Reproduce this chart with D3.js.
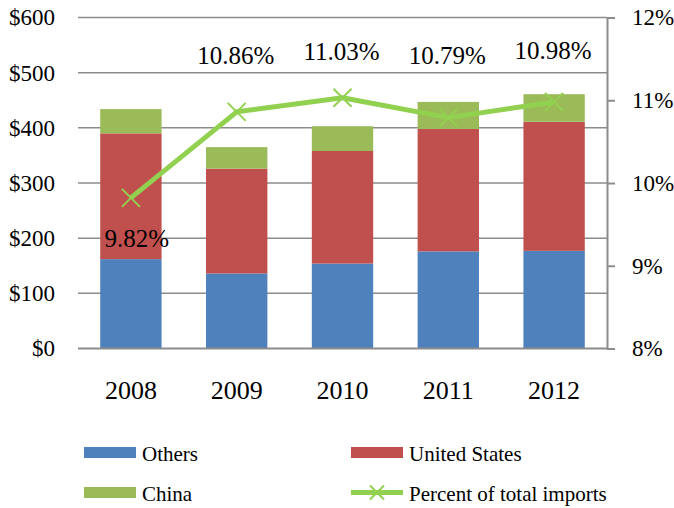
<!DOCTYPE html>
<html>
<head>
<meta charset="utf-8">
<script src="https://cdn.jsdelivr.net/npm/d3@7"></script>
<style>
  body { margin: 0; background: #fff; }
  svg text { font-family: 'Liberation Serif', 'Times New Roman', Tinos, serif !important; fill: #000; }
</style>
</head>
<body>
<div id="chart"></div>
<script>
// chart data
const years = ["2008", "2009", "2010", "2011", "2012"];
const others = [162, 136, 154, 176, 177];
const unitedStates = [228, 190, 204, 222, 234];
const china = [44, 39, 45, 49, 50];
const percentImports = [9.82, 10.86, 11.03, 10.79, 10.98];
const leftTicks = [0, 100, 200, 300, 400, 500, 600];
const rightTicks = [8, 9, 10, 11, 12];

const series_names = ["Others", "United States", "China"];
const colors = { "Others": "#4f81bd", "United States": "#c0504d", "China": "#9bbb59" };
const lineColor = "#92d050";
const serif = "'Liberation Serif', 'Times New Roman', serif";

// label nudges (px, baseline relative to point), set by hand like in the original
const labelShift = [49, -48, -38, -54, -43];

const width = 674, height = 508;
const margin = { left: 78, right: 67, top: 17.5, bottom: 159.5 };

let svg = d3.select("#chart").append("svg")
    .attr("width", width)
    .attr("height", height)
    .style("font-family", serif);

let x = d3.scaleBand()
    .domain(years)
    .range([margin.left, width - margin.right])
    .paddingInner(0.42)
    .paddingOuter(0.21);

let y = d3.scaleLinear()
    .domain([0, 600])
    .range([height - margin.bottom, margin.top]);

let y2 = d3.scaleLinear()
    .domain([8, 12])
    .range([height - margin.bottom, margin.top]);

// gridlines
svg.append("g")
    .selectAll("line")
    .data(leftTicks.slice(1))
    .enter()
    .append("line")
    .attr("x1", margin.left)
    .attr("x2", width - margin.right)
    .attr("y1", d => y(d))
    .attr("y2", d => y(d))
    .style("stroke", "#8c8c8c")
    .style("stroke-width", 1.5);

// stacked bars
const rows = years.map((yr, i) => ({
    year: yr, "Others": others[i], "United States": unitedStates[i], "China": china[i]
}));
const stacked = d3.stack().keys(series_names)(rows);

svg.append("g")
    .selectAll("g")
    .data(stacked)
    .enter()
    .append("g")
    .style("fill", d => colors[d.key])
    .selectAll("rect")
    .data(d => d)
    .enter()
    .append("rect")
    .attr("x", d => x(d.data.year))
    .attr("width", x.bandwidth())
    .attr("y", d => y(d[1]))
    .attr("height", d => y(d[0]) - y(d[1]));

// bottom axis line
svg.append("line")
    .attr("x1", margin.left)
    .attr("x2", width - margin.right)
    .attr("y1", y(0))
    .attr("y2", y(0))
    .style("stroke", "#8c8c8c")
    .style("stroke-width", 2);

// left axis labels
let yAxis = svg.append("g")
    .attr("transform", "translate(" + (margin.left - 23) + ",0)")
    .call(d3.axisLeft(y).tickValues(leftTicks).tickFormat(d => "$" + d).tickSize(0).tickPadding(0));
yAxis.attr("font-family", null);
yAxis.select(".domain").remove();
yAxis.selectAll("text")
    .style("font-family", serif)
    .style("font-size", "23px")
    .attr("dy", "0.32em");

// right axis
let yAxis2 = svg.append("g")
    .attr("transform", "translate(" + (width - margin.right) + ",0)")
    .call(d3.axisRight(y2).tickValues(rightTicks).tickFormat(d => d + "%").tickSize(8).tickSizeOuter(0).tickPadding(17));
yAxis2.attr("font-family", null);
yAxis2.select(".domain").style("stroke", "#8c8c8c").style("stroke-width", 2);
yAxis2.selectAll(".tick line").style("stroke", "#8c8c8c").style("stroke-width", 2);
yAxis2.selectAll("text")
    .style("font-family", serif)
    .style("font-size", "23px")
    .attr("dy", "0.32em");

// x labels
svg.append("g")
    .selectAll("text")
    .data(years)
    .enter()
    .append("text")
    .attr("x", d => x(d) + x.bandwidth() / 2)
    .attr("y", 399)
    .attr("text-anchor", "middle")
    .style("font-family", serif)
    .style("font-size", "26px")
    .text(d => d);

// percent line
const pts = years.map((yr, i) => ({ year: yr, v: percentImports[i], i: i }));
const cx = d => x(d.year) + x.bandwidth() / 2;

svg.append("path")
    .datum(pts)
    .attr("d", d3.line().x(cx).y(d => y2(d.v)))
    .style("fill", "none")
    .style("stroke", lineColor)
    .style("stroke-width", 5)
    .style("stroke-linejoin", "round");

const m = 9;
svg.append("g")
    .selectAll("path")
    .data(pts)
    .enter()
    .append("path")
    .attr("d", d => {
        let px = cx(d), py = y2(d.v);
        return "M" + (px - m) + "," + (py - m) + "L" + (px + m) + "," + (py + m) +
               "M" + (px - m) + "," + (py + m) + "L" + (px + m) + "," + (py - m);
    })
    .style("stroke", lineColor)
    .style("stroke-width", 2);

// data labels
svg.append("g")
    .selectAll("text")
    .data(pts)
    .enter()
    .append("text")
    .attr("x", d => cx(d) + (d.i === 0 ? 6 : -1))
    .attr("y", d => y2(d.v) + labelShift[d.i])
    .attr("text-anchor", "middle")
    .style("font-family", serif)
    .style("font-size", "25px")
    .text(d => d.v.toFixed(2) + "%");

// legend
const legendItems = [
    { name: "Others", type: "rect", lx: 84, ly: 452.5 },
    { name: "United States", type: "rect", lx: 351, ly: 452.5 },
    { name: "China", type: "rect", lx: 84, ly: 492.5 },
    { name: "Percent of total imports", type: "line", lx: 351, ly: 492.5 }
];

let legend = svg.append("g")
    .selectAll("g")
    .data(legendItems)
    .enter()
    .append("g")
    .attr("transform", d => "translate(" + d.lx + "," + d.ly + ")");

legend.filter(d => d.type === "rect")
    .append("rect")
    .attr("x", 0)
    .attr("y", -5.5)
    .attr("width", 52)
    .attr("height", 11)
    .style("fill", d => colors[d.name]);

let lineItem = legend.filter(d => d.type === "line");
lineItem.append("line")
    .attr("x1", 0).attr("x2", 52)
    .attr("y1", 0).attr("y2", 0)
    .style("stroke", lineColor)
    .style("stroke-width", 5);
lineItem.append("path")
    .attr("d", "M" + (26 - 7) + "," + (-7) + "L" + (26 + 7) + "," + 7 + "M" + (26 - 7) + "," + 7 + "L" + (26 + 7) + "," + (-7))
    .style("stroke", lineColor)
    .style("stroke-width", 2);

legend.append("text")
    .attr("x", 58)
    .attr("y", 8)
    .style("font-family", serif)
    .style("font-size", "21px")
    .text(d => d.name);
</script>
</body>
</html>
